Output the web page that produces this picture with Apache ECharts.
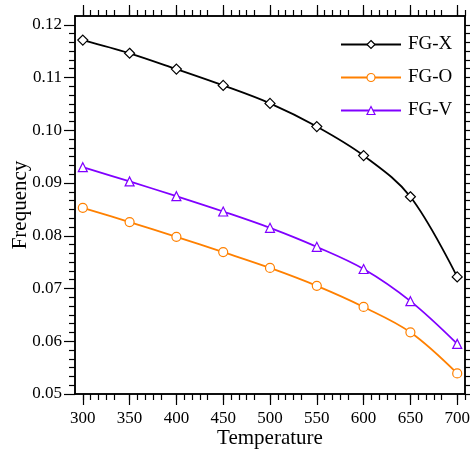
<!DOCTYPE html>
<html>
<head>
<meta charset="utf-8">
<script src="https://cdn.jsdelivr.net/npm/echarts@6/dist/echarts.min.js"></script>
<style>html,body{margin:0;padding:0;background:#fff}#c{width:470px;height:453px}</style>
</head>
<body>
<div id="c"></div>
<script>
var temperatures = [300, 350, 400, 450, 500, 550, 600, 650, 700];
var fgX = [0.1171, 0.1146, 0.1116, 0.1085, 0.1051, 0.1007, 0.0952, 0.0874, 0.0722];
var fgO = [0.0853, 0.0826, 0.0798, 0.0769, 0.0739, 0.0705, 0.0665, 0.0617, 0.0539];
var fgV = [0.0930, 0.0903, 0.0875, 0.0846, 0.0815, 0.0779, 0.0737, 0.0676, 0.0595];
var xTickLabels = [300, 350, 400, 450, 500, 550, 600, 650, 700];
var yTickLabels = [0.05, 0.06, 0.07, 0.08, 0.09, 0.10, 0.11, 0.12];
var seriesNames = ['FG-X', 'FG-O', 'FG-V'];

var FONT = 'Liberation Serif';
var xMin = 300 - 50 / 6, xMax = 700 + 50 / 6;
var yMin = 0.05, yMax = 0.12 + 0.01 / 6;

var xMinor = [];
for (var k = 0; k <= 50; k++) { if (k % 6 !== 0) xMinor.push(xMin + k * 50 / 6); }
var yMinor = [];
for (var j = 0; j <= 43; j++) { if (j % 6 !== 0) yMinor.push(Math.round((yMin + j * 0.01 / 6) * 1e6) / 1e6); }

function pairs(ys) { return temperatures.map(function (t, i) { return [t, ys[i]]; }); }

var lineStyleAxis = { color: '#000', width: 1.5 };

function xAx(pos, ticks, len, labels, extra) {
  var a = {
    type: 'value', min: xMin, max: xMax, position: pos, gridIndex: 0,
    splitLine: { show: false },
    axisLine: { show: true, onZero: false, lineStyle: lineStyleAxis },
    axisTick: { show: true, inside: false, length: len, customValues: ticks, lineStyle: { color: '#000', width: 1.2 } },
    axisLabel: labels ? { show: true, customValues: labels, fontFamily: FONT, fontSize: 17, color: '#000', margin: 16 } : { show: false }
  };
  for (var key in extra) a[key] = extra[key];
  return a;
}
function yAx(pos, ticks, len, labels, extra) {
  var a = {
    type: 'value', min: yMin, max: yMax, position: pos, gridIndex: 0,
    splitLine: { show: false },
    axisLine: { show: true, onZero: false, lineStyle: lineStyleAxis },
    axisTick: { show: true, inside: false, length: len, customValues: ticks, lineStyle: { color: '#000', width: 1.2 } },
    axisLabel: labels ? { show: true, customValues: labels, fontFamily: FONT, fontSize: 17, color: '#000', margin: 13,
      formatter: function (v) { return v.toFixed(2); } } : { show: false }
  };
  for (var key in extra) a[key] = extra[key];
  return a;
}

var colors = ['#000000', '#ff8000', '#8000ff'];
var symbols = ['diamond', 'circle', 'triangle'];
var sizes = [10, 9, 9];
var values = [fgX, fgO, fgV];

var series = seriesNames.map(function (n, i) {
  return {
    name: n, type: 'line', data: pairs(values[i]), smooth: 0.35, symbol: symbols[i], symbolSize: sizes[i],
    itemStyle: { color: '#fff', borderColor: colors[i], borderWidth: 1.2 },
    lineStyle: { color: colors[i], width: 1.8 }
  };
});
var legendData = seriesNames.map(function (n, i) {
  return { name: n, itemStyle: { color: '#fff', borderColor: colors[i], borderWidth: 1.2 } };
});

var chart = echarts.init(document.getElementById('c'), null, { renderer: 'canvas' });
chart.setOption({
  animation: false,
  backgroundColor: '#fff',
  grid: { left: 75, right: 5, top: 16, bottom: 59, containLabel: false, outerBoundsMode: 'none' },
  legend: {
    left: 340, top: 35, orient: 'vertical', padding: 0, itemWidth: 60, itemHeight: 10, itemGap: 14,
    textStyle: { fontFamily: FONT, fontSize: 19, color: '#000', padding: [0, 0, 0, 2] },
    data: legendData
  },
  xAxis: [
    xAx('bottom', xTickLabels, 11, xTickLabels, {
      name: 'Temperature', nameLocation: 'middle', nameGap: 34, nameMoveOverlap: false,
      nameTextStyle: { fontFamily: FONT, fontSize: 21, color: '#000' }
    }),
    xAx('bottom', xMinor, 6, null, {}),
    xAx('top', xTickLabels, 11, null, {}),
    xAx('top', xMinor, 6, null, {})
  ],
  yAxis: [
    yAx('left', yTickLabels, 11, yTickLabels, {
      name: 'Frequency', nameLocation: 'middle', nameGap: 44, nameRotate: 90, nameMoveOverlap: false,
      nameTextStyle: { fontFamily: FONT, fontSize: 21, color: '#000' }
    }),
    yAx('left', yMinor, 6, null, {}),
    yAx('right', yTickLabels, 11, null, {}),
    yAx('right', yMinor, 6, null, {})
  ],
  series: series
});
</script>
</body>
</html>
